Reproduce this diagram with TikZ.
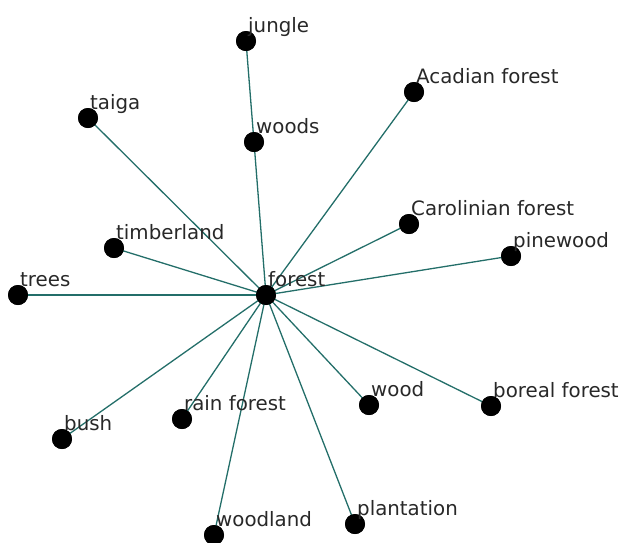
\documentclass[tikz,border=0pt]{standalone}
\usepackage{fontspec}
\setmainfont{DejaVu Sans}
\definecolor{edgeteal}{RGB}{35,110,105}
\definecolor{labelgray}{RGB}{40,40,40}
\begin{document}
\begin{tikzpicture}[x=1pt,y=-1pt,
  dot/.style={circle,fill=black,inner sep=0pt,minimum size=20pt},
  link/.style={draw=edgeteal,line width=1.3pt},
  lbl/.style={anchor=base west,inner sep=0pt,text=labelgray,font=\fontsize{19.8}{20}\selectfont}]
\useasboundingbox (0,0) rectangle (621,542);
% word nodes
\node[dot] (forest)     at (266,295) {};
\node[dot] (jungle)     at (246,41)  {};
\node[dot] (woods)      at (254,142) {};
\node[dot] (acadian)    at (414,92)  {};
\node[dot] (taiga)      at (88,118)  {};
\node[dot] (timberland) at (114,248) {};
\node[dot] (carolinian) at (409,224) {};
\node[dot] (pinewood)   at (511,256) {};
\node[dot] (trees)      at (18,295)  {};
\node[dot] (bush)       at (62,439)  {};
\node[dot] (rainforest) at (182,419) {};
\node[dot] (wood)       at (369,405) {};
\node[dot] (boreal)     at (491,406) {};
\node[dot] (woodland)   at (214,535) {};
\node[dot] (plantation) at (355,524) {};
% links
\foreach \n in {woods,acadian,taiga,timberland,carolinian,pinewood,trees,bush,rainforest,wood,boreal,woodland,plantation}
  \draw[link] (forest.center) -- (\n.center);
\draw[link] (jungle.center) -- (woods.center);
% dots drawn again above the links
\foreach \n in {forest,jungle,woods,acadian,taiga,timberland,carolinian,pinewood,trees,bush,rainforest,wood,boreal,woodland,plantation}
  \fill[black] (\n.center) circle (10pt);
% labels
\newcommand{\wordlabel}[2]{\node[lbl] at ([xshift=2pt,yshift=8.5pt]#1.center) {#2};}
\wordlabel{forest}{forest}
\wordlabel{jungle}{jungle}
\wordlabel{woods}{woods}
\wordlabel{acadian}{Acadian forest}
\wordlabel{taiga}{taiga}
\wordlabel{timberland}{timberland}
\wordlabel{carolinian}{Carolinian forest}
\wordlabel{pinewood}{pinewood}
\wordlabel{trees}{trees}
\wordlabel{bush}{bush}
\wordlabel{rainforest}{rain forest}
\wordlabel{wood}{wood}
\wordlabel{boreal}{boreal forest}
\wordlabel{woodland}{woodland}
\wordlabel{plantation}{plantation}
\end{tikzpicture}
\end{document}
